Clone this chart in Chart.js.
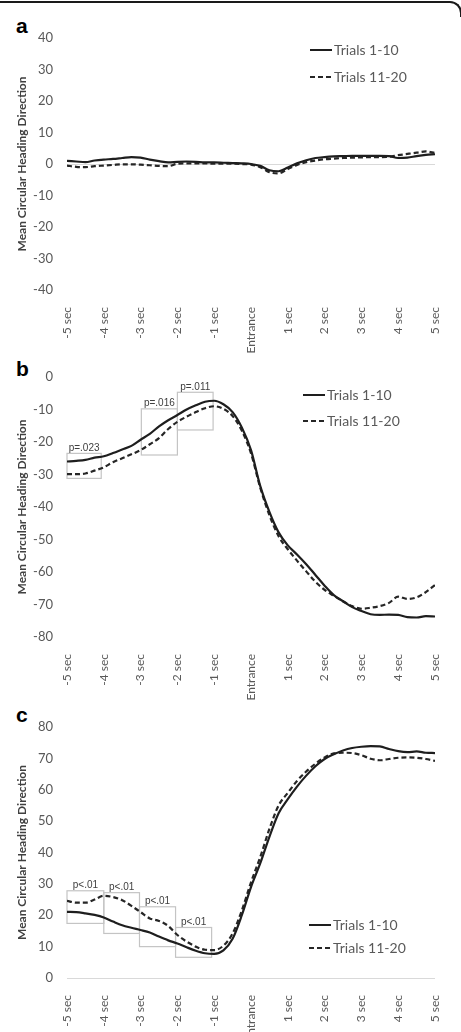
<!DOCTYPE html>
<html>
<head>
<meta charset="utf-8">
<script src="https://cdn.jsdelivr.net/npm/chart.js@4.4.0/dist/chart.umd.min.js"></script>
<style>
html,body{margin:0;padding:0;background:#fff;}
body{width:461px;height:1032px;position:relative;overflow:hidden;}
.frame{position:absolute;left:-12px;top:1px;width:472px;height:14px;border-top:2px solid #1a1a1a;border-right:2px solid #1a1a1a;border-top-right-radius:12px;}
canvas{position:absolute;left:0;}
.letter{position:absolute;left:16px;font:bold 21px "Liberation Sans",Arial,sans-serif;line-height:1;color:#000;}
</style>
</head>
<body>
<div class="frame"></div>
<div class="letter" style="top:15px">a</div>
<canvas id="chartA" width="461" height="355" style="top:0"></canvas>
<div class="letter" style="top:358px">b</div>
<canvas id="chartB" width="461" height="345" style="top:355px"></canvas>
<div class="letter" style="top:704px">c</div>
<canvas id="chartC" width="461" height="332" style="top:700px"></canvas>
<script>
// ─── DATA ───────────────────────────────────────────────────────────
const seconds = [-5,-4.75,-4.5,-4.25,-4,-3.75,-3.5,-3.25,-3,-2.75,-2.5,-2.25,-2,-1.75,-1.5,-1.25,-1,-0.75,-0.5,-0.25,
  0,0.25,0.5,0.75,1,1.25,1.5,1.75,2,2.25,2.5,2.75,3,3.25,3.5,3.75,4,4.25,4.5,4.75,5];
const xTickLabels = ['-5 sec','-4 sec','-3 sec','-2 sec','-1 sec','Entrance','1 sec','2 sec','3 sec','4 sec','5 sec'];
const seriesNames = ['Trials 1-10','Trials 11-20'];
const yTitle = 'Mean Circular Heading Direction';

// panel a
const aTrials1to10 = [1.0,0.8,0.6,1.1,1.4,1.6,1.9,2.2,2.0,1.4,0.9,0.5,0.7,0.8,0.7,0.5,0.5,0.4,0.3,0.2,
  0.0,-0.6,-2.0,-2.3,-1.1,0.2,1.2,1.9,2.2,2.4,2.5,2.6,2.6,2.6,2.6,2.5,1.9,2.0,2.5,2.9,3.1];
const aTrials11to20 = [-0.5,-0.9,-1.0,-0.7,-0.5,-0.3,-0.1,-0.1,-0.2,-0.4,-0.6,-0.7,0.1,0.2,0.2,0.2,0.1,0.1,0.1,0.0,
  -0.2,-1.0,-2.6,-3.0,-1.6,-0.3,0.6,1.1,1.5,1.7,1.9,2.0,2.1,2.2,2.2,2.3,2.8,3.2,3.6,4.0,3.5];

// panel b
const bTrials1to10 = [-26.0,-25.8,-25.5,-24.8,-24.4,-23.4,-22.3,-21.2,-19.3,-17.5,-15.2,-13.3,-11.7,-10.0,-8.7,-7.6,-7.3,-8.4,-10.8,-15.5,
  -22.5,-33.5,-41.5,-47.8,-51.8,-54.6,-57.6,-60.9,-64.2,-67.1,-69.0,-70.8,-72.0,-73.0,-73.2,-73.1,-73.2,-73.9,-74.0,-73.6,-73.7];
const bTrials11to20 = [-29.9,-29.9,-29.7,-28.8,-27.8,-26.2,-25.0,-23.8,-22.5,-20.7,-18.8,-16.0,-13.8,-12.2,-10.8,-9.6,-9.0,-9.8,-12.0,-16.5,
  -23.5,-34.0,-42.5,-49.0,-53.0,-56.5,-59.8,-63.0,-65.5,-67.3,-69.0,-70.5,-71.3,-71.0,-70.5,-69.5,-67.6,-68.3,-67.8,-66.2,-64.0];
const bBoxes = [[-5,-4.07,-23.5,-31.2],[-2.98,-2.0,-9.8,-24.0],[-2.0,-1.03,-4.7,-16.3]];
const bBoxTexts = ['p=.023','p=.016','p=.011'];

// panel c
const cTrials1to10 = [21.1,21.0,20.6,20.1,19.3,18.0,16.8,16.0,15.3,14.5,13.2,12.0,11.0,9.8,8.7,7.9,7.7,8.8,12.5,20.0,
  29.0,36.5,45.0,52.5,57.0,61.0,64.5,67.5,69.8,71.3,72.5,73.3,73.7,73.9,73.8,73.0,72.3,72.0,72.2,71.8,71.7];
const cTrials11to20 = [24.6,24.0,24.0,25.0,26.2,25.8,24.8,23.0,21.0,19.0,18.2,16.6,13.7,11.6,10.0,9.0,8.9,10.3,14.2,21.5,
  30.5,38.5,47.5,55.0,59.0,62.8,65.8,68.3,70.3,71.6,71.8,71.7,71.0,69.9,69.4,69.8,70.2,70.3,70.2,69.8,69.2];
const cBoxes = [[-5,-4.0,27.8,17.4],[-4.0,-3.03,27.2,14.2],[-3.03,-2.05,22.7,10.0],[-2.05,-1.07,16.1,6.6]];
const cBoxTexts = ['p<.01','p<.01','p<.01','p<.01'];

// ─── PLUGINS ────────────────────────────────────────────────────────
const pBoxes = {
  id:'pBoxes',
  beforeDatasetsDraw(chart, args, opts){
    if(!opts.boxes) return;
    const {ctx, scales:{x,y}} = chart;
    ctx.save();
    ctx.strokeStyle='#c4c4c4'; ctx.lineWidth=1.2;
    ctx.font='10px "Liberation Sans", Arial, sans-serif';
    ctx.fillStyle='#404040'; ctx.textAlign='center'; ctx.textBaseline='bottom';
    opts.boxes.forEach((b,i)=>{
      const l=x.getPixelForValue(b[0]), r=x.getPixelForValue(b[1]);
      const t=y.getPixelForValue(b[2]), bt=y.getPixelForValue(b[3]);
      ctx.strokeRect(l,t,r-l,bt-t);
      ctx.fillText(opts.texts[i],(l+r)/2,t-0.5);
    });
    ctx.restore();
  }
};

const trialLegend = {
  id:'trialLegend',
  afterDraw(chart, args, opts){
    const ctx=chart.ctx;
    ctx.save();
    ctx.font='14px Lato'; ctx.textBaseline='middle'; ctx.fillStyle='#595959';
    chart.data.datasets.forEach((ds,i)=>{
      const y=opts.y+i*opts.gap;
      ctx.beginPath();
      ctx.setLineDash(ds.borderDash||[]);
      ctx.strokeStyle=ds.borderColor; ctx.lineWidth=2;
      ctx.moveTo(opts.x,y); ctx.lineTo(opts.x+22,y); ctx.stroke();
      ctx.setLineDash([]);
      ctx.fillText(ds.label,opts.x+24,y);
    });
    ctx.restore();
  }
};

// ─── CHARTS ─────────────────────────────────────────────────────────
function pts(vals){ return seconds.map((t,i)=>({x:t,y:vals[i]})); }

function makeChart(id, early, late, yMin, yMax, o){
  return new Chart(document.getElementById(id),{
    type:'line',
    data:{datasets:[
      {label:seriesNames[0],data:pts(early),borderColor:'#1e1e1e',borderWidth:2.2,pointRadius:0,cubicInterpolationMode:'monotone'},
      {label:seriesNames[1],data:pts(late),borderColor:'#262626',borderWidth:2.2,borderDash:[5,3],pointRadius:0,cubicInterpolationMode:'monotone'}
    ]},
    options:{
      responsive:false,animation:false,
      layout:{padding:{left:15,right:26,top:o.top,bottom:0}},
      plugins:{legend:{display:false},tooltip:{enabled:false},
        pBoxes:{boxes:o.boxes,texts:o.texts},
        trialLegend:{x:o.legX,y:o.legY,gap:o.legGap}},
      scales:{
        x:{type:'linear',min:-5,max:5,
          grid:{display:false},border:{display:false},
          afterFit:s=>{s.height=o.xh;},
          ticks:{stepSize:1,autoSkip:false,maxRotation:90,minRotation:90,padding:9,color:'#595959',
            font:{family:'Lato',size:12},callback:v=>xTickLabels[Math.round(v)+5]}},
        y:{min:yMin,max:yMax,
          border:{display:false},
          grid:{drawTicks:false,lineWidth:1,color:c=>(o.zero&&c.tick&&c.tick.value===0)?'#d9d9d9':'rgba(0,0,0,0)'},
          afterFit:s=>{s.width=52;},
          title:{display:true,text:yTitle,color:'#404040',padding:0,font:{family:'Lato',size:12,weight:'bold',lineHeight:1.2}},
          ticks:{stepSize:10,padding:14,color:'#595959',font:{family:'Lato',size:13}}}
      }
    },
    plugins:[pBoxes,trialLegend]
  });
}

makeChart('chartA',aTrials1to10,aTrials11to20,-40,40,{top:38,xh:65,zero:true,legX:310,legY:50,legGap:27});
makeChart('chartB',bTrials1to10,bTrials11to20,-80,0,{top:22,xh:63,zero:false,boxes:bBoxes,texts:bBoxTexts,legX:303,legY:40,legGap:26});
makeChart('chartC',cTrials1to10,cTrials11to20,0,80,{top:27,xh:54,zero:true,boxes:cBoxes,texts:cBoxTexts,legX:309,legY:225,legGap:23});
</script>
</body>
</html>
